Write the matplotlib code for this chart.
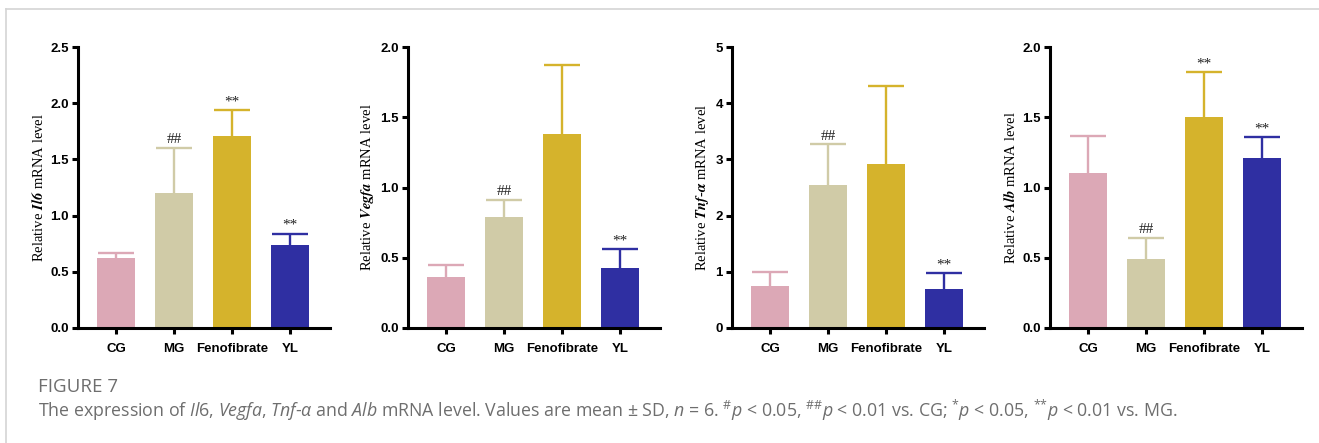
import numpy as np
import matplotlib
matplotlib.use("Agg")
import matplotlib.pyplot as plt
from matplotlib.lines import Line2D

groups = ["CG", "MG", "Fenofibrate", "YL"]
colors = ["#dca8b6", "#d0cba7", "#d5b32c", "#2f2fa2"]

il6_mean = [0.62, 1.20, 1.71, 0.74]
il6_sd = [0.05, 0.40, 0.23, 0.10]
il6_marks = ["", "##", "**", "**"]

vegfa_mean = [0.365, 0.79, 1.38, 0.43]
vegfa_sd = [0.085, 0.12, 0.49, 0.13]
vegfa_marks = ["", "##", "", "**"]

tnf_mean = [0.75, 2.54, 2.91, 0.69]
tnf_sd = [0.25, 0.73, 1.40, 0.28]
tnf_marks = ["", "##", "", "**"]

alb_mean = [1.105, 0.49, 1.50, 1.21]
alb_sd = [0.265, 0.15, 0.32, 0.15]
alb_marks = ["", "##", "**", "**"]

panels = [
    (il6_mean, il6_sd, il6_marks, r"$\mathbfit{Il6}$", 2.5, [0, 0.5, 1.0, 1.5, 2.0, 2.5], "%.1f"),
    (vegfa_mean, vegfa_sd, vegfa_marks, r"$\mathbfit{Vegfa}$", 2.0, [0, 0.5, 1.0, 1.5, 2.0], "%.1f"),
    (tnf_mean, tnf_sd, tnf_marks, r"$\mathbfit{Tnf}$-$\mathbfit{\alpha}$", 5, [0, 1, 2, 3, 4, 5], "%d"),
    (alb_mean, alb_sd, alb_marks, r"$\mathbfit{Alb}$", 2.0, [0, 0.5, 1.0, 1.5, 2.0], "%.1f"),
]

W, H = 1319, 443
fig = plt.figure(figsize=(W / 100, H / 100), dpi=100)

plt.rcParams['mathtext.fontset'] = 'custom'
plt.rcParams['mathtext.rm'] = 'Open Sans'
plt.rcParams['mathtext.it'] = 'Open Sans:italic'

lefts = [78, 408, 732, 1050]
x = np.arange(len(groups))
for left, (mean, sd, marks, gene, ytop, yticks, fmt) in zip(lefts, panels):
    ax = fig.add_axes([left / W, (H - 328) / H, 252 / W, 281 / H])
    ax.bar(x, mean, width=0.66, color=colors, zorder=2)
    for i in range(len(groups)):
        eb = ax.errorbar(x[i], mean[i], yerr=[[0], [sd[i]]], ecolor=colors[i],
                         elinewidth=1.7, capsize=13, capthick=1.7, fmt="none", zorder=1)
        eb[1][0].set_visible(False)  # hide the lower cap sitting on the bar top
        if marks[i]:
            ax.text(x[i], mean[i] + sd[i] + ytop * 0.006, marks[i], ha="center", va="bottom",
                    fontsize=11, family="Liberation Serif", color="#222222")
    ax.set_xlim(-0.66, 3.685)
    ax.set_ylim(0, ytop)
    ax.set_yticks(yticks)
    ax.set_yticklabels([fmt % v for v in yticks])
    ax.set_xticks(x)
    ax.set_xticklabels(groups)
    for lab in ax.get_xticklabels() + ax.get_yticklabels():
        lab.set_family("Liberation Sans")
        lab.set_fontweight("bold")
        lab.set_fontsize(9.5)
    ax.spines["top"].set_visible(False)
    ax.spines["right"].set_visible(False)
    ax.spines["left"].set_linewidth(2.2)
    ax.spines["bottom"].set_linewidth(2.2)
    ax.tick_params(axis="both", direction="out", length=4.5, width=2.2)
    ax.tick_params(axis="x", pad=6)
    ax.tick_params(axis="y", pad=2)
    ax.set_ylabel("Relative " + gene + " mRNA level", family="Liberation Serif",
                  fontsize=10.5, math_fontfamily="stix", labelpad=3)

# frame lines of the figure page
fig.add_artist(Line2D([6 / W, 6 / W], [0, 1 - 9 / H], color="#d4d4d4", lw=1.2))
fig.add_artist(Line2D([6 / W, 1], [1 - 9 / H, 1 - 9 / H], color="#d4d4d4", lw=1.2))

fig.text(38 / W, 1 - 392 / H, "FIGURE 7", family="Open Sans", fontsize=13.5,
         color="#6e6e6e", va="baseline")
caption = (r"The expression of $\mathit{Il6}$, $\mathit{Vegfa}$, $\mathit{Tnf}$-$\mathit{\alpha}$ and "
           r"$\mathit{Alb}$ mRNA level. Values are mean $\pm$ SD, $\mathit{n}$ = 6. "
           r"$^{\#}\mathit{p}$ < 0.05, $^{\#\#}\mathit{p}$ < 0.01 vs. CG; "
           r"$^{{*}}\mathit{p}$ < 0.05, $^{{*}{*}}\mathit{p}$ < 0.01 vs. MG.")
fig.text(38 / W, 1 - 417 / H, caption, family="Open Sans", fontsize=12.75,
         color="#6e6e6e", va="baseline")

fig.savefig("out.png", dpi=100)
